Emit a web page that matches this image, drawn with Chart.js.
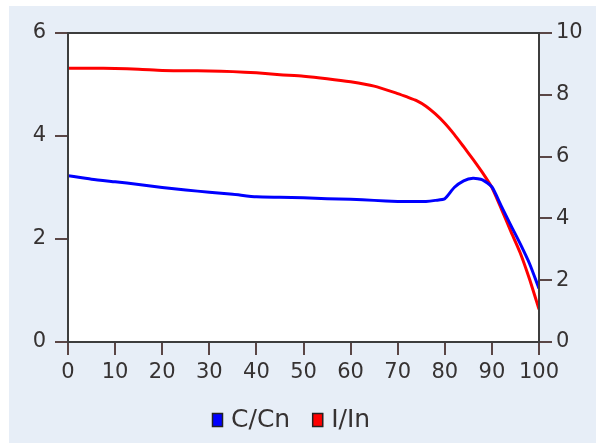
<!DOCTYPE html>
<html>
<head>
<meta charset="utf-8">
<script src="https://cdn.jsdelivr.net/npm/chart.js@4.4.1/dist/chart.umd.min.js"></script>
<style>
  html, body { margin: 0; padding: 0; background: #fff; }
  #wrap { position: relative; width: 596px; height: 443px; overflow: hidden; }
  #panel { position: absolute; left: 9px; top: 6px; right: 0; bottom: 0; background: #e7eef7; }
  #chart { position: absolute; left: 0; top: 0; }
</style>
</head>
<body>
<div id="wrap">
  <div id="panel"></div>
  <canvas id="chart" width="596" height="443"></canvas>
</div>
<script>
// values
const xValues = [0, 5, 10, 15, 20, 25, 30, 35, 40, 45, 50, 55, 60, 65, 70, 72, 74, 76, 78, 80, 82, 84, 86, 88, 90, 92, 94, 96, 98, 100];
const ccnValues = [3.23, 3.16, 3.11, 3.06, 3.00, 2.95, 2.91, 2.87, 2.82, 2.81, 2.80, 2.78, 2.77, 2.75, 2.73, 2.73, 2.73, 2.73, 2.75, 2.78, 3.00, 3.13, 3.18, 3.15, 3.01, 2.64, 2.27, 1.91, 1.52, 1.04];
const iinValues = [8.86, 8.86, 8.85, 8.83, 8.79, 8.78, 8.77, 8.75, 8.71, 8.65, 8.60, 8.52, 8.42, 8.28, 8.04, 7.93, 7.81, 7.63, 7.38, 7.08, 6.72, 6.32, 5.91, 5.48, 5.00, 4.31, 3.59, 2.89, 2.03, 1.06];
const seriesLabels = ["C/Cn", "I/In"];
const xTicks = [0, 10, 20, 30, 40, 50, 60, 70, 80, 90, 100];
const leftTicks = [0, 2, 4, 6];
const rightTicks = [0, 2, 4, 6, 8, 10];

const FONT = '"DejaVu Sans", Verdana, sans-serif';
const TEXT_COLOR = "#363232";
const TICK_COLOR = "#5a4646";
const FRAME_COLOR = "#3d3d3d";

function toPoints(ys) {
  return xValues.map((x, i) => ({ x: x, y: ys[i] }));
}

const plotFrame = {
  id: "plotFrame",
  beforeDraw(chart) {
    const a = chart.chartArea;
    const ctx = chart.ctx;
    ctx.save();
    ctx.fillStyle = "#fff";
    ctx.fillRect(a.left, a.top, a.right - a.left, a.bottom - a.top);
    ctx.restore();
  },
  afterDatasetsDraw(chart) {
    const a = chart.chartArea;
    const ctx = chart.ctx;
    ctx.save();
    ctx.strokeStyle = FRAME_COLOR;
    ctx.lineWidth = 2;
    ctx.strokeRect(a.left, a.top, a.right - a.left, a.bottom - a.top);
    ctx.restore();
  }
};

const legendItems = {
  id: "legendItems",
  afterDraw(chart) {
    const ctx = chart.ctx;
    ctx.save();
    ctx.font = "25px " + FONT;
    ctx.textBaseline = "middle";
    let x = 212;
    const y = 420;
    chart.data.datasets.forEach(ds => {
      ctx.fillStyle = ds.borderColor;
      ctx.fillRect(x, y - 7, 11, 14);
      ctx.strokeStyle = "#222";
      ctx.lineWidth = 1.5;
      ctx.strokeRect(x + 0.5, y - 6.5, 10, 13);
      x += 11 + 8;
      ctx.fillStyle = TEXT_COLOR;
      ctx.fillText(ds.label, x, y);
      x += ctx.measureText(ds.label).width + 22;
    });
    ctx.restore();
  }
};

function tickGrid() {
  return {
    display: true,
    drawOnChartArea: false,
    drawTicks: true,
    tickLength: 13,
    tickColor: TICK_COLOR,
    lineWidth: 2
  };
}

new Chart(document.getElementById("chart"), {
  type: "line",
  data: {
    datasets: [
      {
        label: seriesLabels[0],
        data: toPoints(ccnValues),
        yAxisID: "yLeft",
        borderColor: "#0000ff",
        backgroundColor: "#0000ff",
        borderWidth: 3,
        pointRadius: 0,
        tension: 0.2
      },
      {
        label: seriesLabels[1],
        data: toPoints(iinValues),
        yAxisID: "yRight",
        borderColor: "#ff0000",
        backgroundColor: "#ff0000",
        borderWidth: 3,
        pointRadius: 0,
        tension: 0.2
      }
    ]
  },
  options: {
    responsive: false,
    animation: false,
    layout: { padding: { left: 0, right: 0, top: 33, bottom: 0 } },
    plugins: {
      legend: { display: false },
      tooltip: { enabled: false }
    },
    scales: {
      x: {
        type: "linear",
        min: 0,
        max: 100,
        afterBuildTicks: s => { s.ticks = xTicks.map(v => ({ value: v })); },
        afterFit: s => { s.height = 101; },
        grid: tickGrid(),
        border: { display: false },
        ticks: { color: TEXT_COLOR, font: { family: FONT, size: 21 }, padding: 5, maxRotation: 0 }
      },
      yLeft: {
        type: "linear",
        position: "left",
        min: 0,
        max: 6,
        afterBuildTicks: s => { s.ticks = leftTicks.map(v => ({ value: v })); },
        afterFit: s => { s.width = 68; },
        grid: tickGrid(),
        border: { display: false },
        ticks: { color: TEXT_COLOR, font: { family: FONT, size: 21 }, padding: 9 }
      },
      yRight: {
        type: "linear",
        position: "right",
        min: 0,
        max: 10,
        afterBuildTicks: s => { s.ticks = rightTicks.map(v => ({ value: v })); },
        afterFit: s => { s.width = 57; },
        grid: tickGrid(),
        border: { display: false },
        ticks: { color: TEXT_COLOR, font: { family: FONT, size: 21 }, padding: 4 }
      }
    }
  },
  plugins: [plotFrame, legendItems]
});
</script>
</body>
</html>
